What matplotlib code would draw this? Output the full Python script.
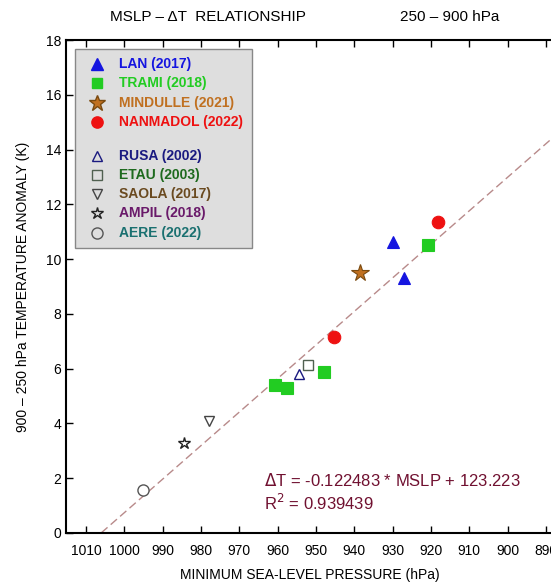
import matplotlib
matplotlib.use("Agg")
import matplotlib.pyplot as plt
from matplotlib.lines import Line2D
import numpy as np

plt.rcParams['font.family'] = ['Liberation Sans', 'DejaVu Sans']

# storm data: (MSLP hPa, dT K)
lan_p = [930.0, 927.1]
lan_t = [10.62, 9.31]
trami_p = [920.8, 960.8, 957.5, 948.0]
trami_t = [10.51, 5.40, 5.29, 5.88]
mindulle_p = [938.6]
mindulle_t = [9.49]
nanmadol_p = [918.2, 945.4]
nanmadol_t = [11.35, 7.15]
rusa_p = [954.3]
rusa_t = [5.80]
etau_p = [952.2]
etau_t = [6.13]
saola_p = [977.8]
saola_t = [4.09]
ampil_p = [984.4]
ampil_t = [3.28]
aere_p = [995.1]
aere_t = [1.57]

slope = -0.122483
intercept = 123.223
r2 = 0.939439

fig = plt.figure(figsize=(5.51, 5.83), dpi=100)
ax = fig.add_axes([66/551, 50/583, 488/551, 493/583])

# regression line
xx = np.array([1006.0, 880.0])
ax.plot(xx, slope*xx + intercept, color='#b88a8a', lw=1.0, dashes=(6, 3), zorder=1)

filled = [
    (lan_p, lan_t, '^', '#1515e0', '#1515e0', 'LAN (2017)', 9),
    (trami_p, trami_t, 's', '#22cc22', '#22cc22', 'TRAMI (2018)', 8),
    (mindulle_p, mindulle_t, '*', '#c07020', '#7a4a10', 'MINDULLE (2021)', 13),
    (nanmadol_p, nanmadol_t, 'o', '#ee1111', '#ee1111', 'NANMADOL (2022)', 9),
]
opened = [
    (rusa_p, rusa_t, '^', '#1a1a80', '#1a1a80', 'RUSA (2002)', 7),
    (etau_p, etau_t, 's', '#506050', '#1e6a1e', 'ETAU (2003)', 7),
    (saola_p, saola_t, 'v', '#444444', '#6a4a20', 'SAOLA (2017)', 7),
    (ampil_p, ampil_t, '*', '#222222', '#6a1a6a', 'AMPIL (2018)', 9),
    (aere_p, aere_t, 'o', '#555555', '#1a7070', 'AERE (2022)', 8),
]

handles = []
labels = []
tcolors = []
for p, t, m, c, ec, lab, ms in filled:
    ax.plot(p, t, m, color=c, mec=ec, mew=0.8, ms=ms, zorder=3)
    handles.append(Line2D([], [], ls='none', marker=m, color=c, mec=ec, ms=ms*0.9))
    labels.append(lab)
    tcolors.append(c)
handles.append(Line2D([], [], ls='none'))
labels.append(' ')
tcolors.append('k')
for p, t, m, c, tc, lab, ms in opened:
    ax.plot(p, t, m, mfc='white', mec=c, mew=1.0, ms=ms, zorder=3)
    handles.append(Line2D([], [], ls='none', marker=m, mfc='none', mec=c, mew=1.0, ms=ms))
    labels.append(lab)
    tcolors.append(tc)

leg = ax.legend(handles, labels, loc='upper left', bbox_to_anchor=(0.018, 0.982),
                borderaxespad=0, fancybox=False, facecolor='#dedede',
                edgecolor='#888888', framealpha=1,
                prop={'weight': 'bold', 'size': 10}, handletextpad=0.6,
                labelspacing=0.38, borderpad=0.6, handlelength=2.0, handleheight=0.3)
for txt, tc in zip(leg.get_texts(), tcolors):
    txt.set_color(tc)
# small blank row between the two groups
leg.get_texts()[4].set_fontsize(3)

ax.text(0.406, 0.1075, r'$\Delta$T = %.6f * MSLP + %.3f' % (slope, intercept),
        transform=ax.transAxes, fontsize=12, color='#701030', va='center')
ax.text(0.406, 0.061, r'R$^2$ = %.6f' % r2,
        transform=ax.transAxes, fontsize=12, color='#701030', va='center')

ax.set_xlim(1015.2, 887.9)
ax.set_ylim(0, 18)
ax.set_xticks(np.arange(1010, 889, -10))
ax.set_yticks(np.arange(0, 19, 2))
ax.tick_params(direction='in', top=True, labelsize=10, length=5, width=1)
ax.tick_params(axis='x', pad=8)
for s in ax.spines.values():
    s.set_linewidth(1.5)

ax.set_xlabel('MINIMUM SEA-LEVEL PRESSURE (hPa)', fontsize=10, labelpad=7)
ax.set_ylabel('900 – 250 hPa TEMPERATURE ANOMALY (K)', fontsize=10, labelpad=11)

fig.text(208/551, 1 - 17/583, 'MSLP – ΔT  RELATIONSHIP', fontsize=11, ha='center', va='center')
fig.text(450/551, 1 - 17/583, '250 – 900 hPa', fontsize=11, ha='center', va='center')

fig.savefig('out.png', dpi=100)
